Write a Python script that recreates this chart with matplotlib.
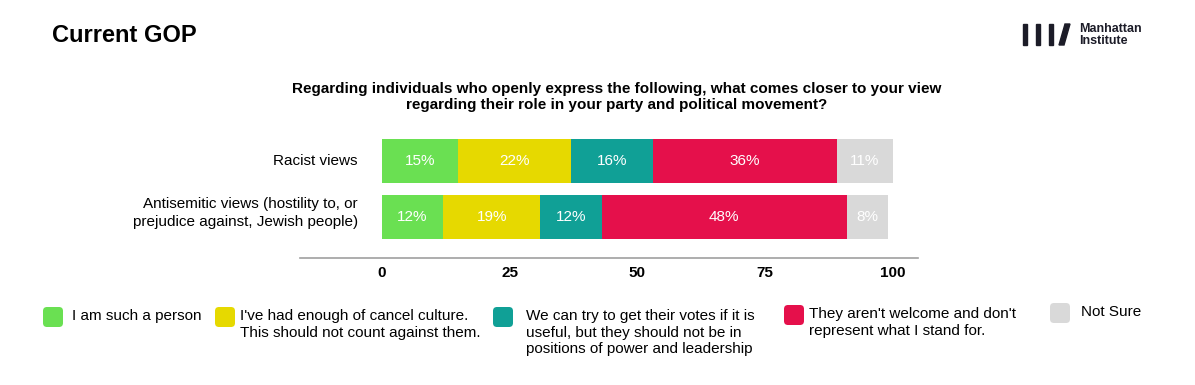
import matplotlib.pyplot as plt
from matplotlib.patches import FancyBboxPatch, Polygon

plt.rcParams['font.family'] = ['Liberation Sans', 'DejaVu Sans']

categories = ["Racist views",
              "Antisemitic views (hostility to, or\nprejudice against, Jewish people)"]
series_names = ["I am such a person",
                "I've had enough of cancel culture.\nThis should not count against them.",
                "We can try to get their votes if it is\nuseful, but they should not be in\npositions of power and leadership",
                "They aren't welcome and don't\nrepresent what I stand for.",
                "Not Sure"]
such_person = [15, 12]
cancel_culture = [22, 19]
get_votes = [16, 12]
not_welcome = [36, 48]
not_sure = [11, 8]
colors = ["#6ae052", "#e6d900", "#10a096", "#e5104b", "#d9d9d9"]
ticks = [0, 25, 50, 75, 100]

series = [such_person, cancel_culture, get_votes, not_welcome, not_sure]

fig = plt.figure(figsize=(11.95, 3.85), dpi=100)

# main bar axes
ax = fig.add_axes([300 / 1195, 1 - 258 / 385, 618 / 1195, 128 / 385])
ypos = [1, 0]
left = [0, 0]
for vals, col in zip(series, colors):
    ax.barh(ypos, vals, left=left, height=0.77, color=col, edgecolor='none')
    for y, l, v in zip(ypos, left, vals):
        ax.text(l + v / 2, y, f"{v}%", ha='center', va='center',
                color='white', fontsize=11)
    left = [l + v for l, v in zip(left, vals)]

ax.set_xlim(-16, 104.9)
ax.set_ylim(-0.732, 1.554)
ax.set_xticks(ticks)
ax.set_xticklabels([str(t) for t in ticks], fontweight='bold', fontsize=11)
ax.tick_params(axis='x', length=0, pad=6)
ax.set_yticks([])
for s in ['top', 'right', 'left']:
    ax.spines[s].set_visible(False)
ax.spines['bottom'].set_color('#a0a0a0')
ax.spines['bottom'].set_linewidth(1.2)
ax.text(-4.7, 1, categories[0], ha='right', va='center', fontsize=11)
ax.text(-4.7, 0.07, categories[1], ha='right', va='center', fontsize=11,
        multialignment='right', linespacing=1.3)

# overlay in pixel coordinates for titles, logo and legend
ov = fig.add_axes([0, 0, 1, 1], zorder=-1)
ov.set_xlim(0, 1195)
ov.set_ylim(385, 0)
ov.axis('off')

ov.text(52, 35, "Current GOP", fontsize=17, fontweight='bold', va='center')
ov.text(617, 97, "Regarding individuals who openly express the following, what comes closer to your view\n"
        "regarding their role in your party and political movement?",
        ha='center', va='center', fontsize=11, fontweight='bold', linespacing=1.25)

# logo
for x0 in [1023, 1036, 1049]:
    ov.add_patch(Polygon([[x0, 24], [x0 + 4.5, 24], [x0 + 4.5, 45], [x0, 45]],
                         closed=True, color='#1c1c28'))
ov.add_patch(Polygon([[1065, 24], [1070, 24], [1064, 45], [1059, 45]],
                     closed=True, color='#1c1c28'))
ov.text(1079, 35, "Manhattan\nInstitute", fontsize=9, fontweight='bold',
        va='center', color='#1c1c28', linespacing=1.0)

# legend
leg_box = [(43, 307), (215, 307), (493, 307), (784, 305), (1050, 303)]
leg_txt = [(72, 317), (240, 317), (526, 317), (809, 315), (1081, 313)]
for (bx, by), (tx, ty), name, col in zip(leg_box, leg_txt, series_names, colors):
    ov.add_patch(FancyBboxPatch((bx + 4, by + 4), 12, 12,
                                boxstyle="round,pad=4", color=col, ec='none'))
    ov.text(tx, ty - 8, name, fontsize=11, va='top', linespacing=1.25)

fig.savefig("out.png", dpi=100)
